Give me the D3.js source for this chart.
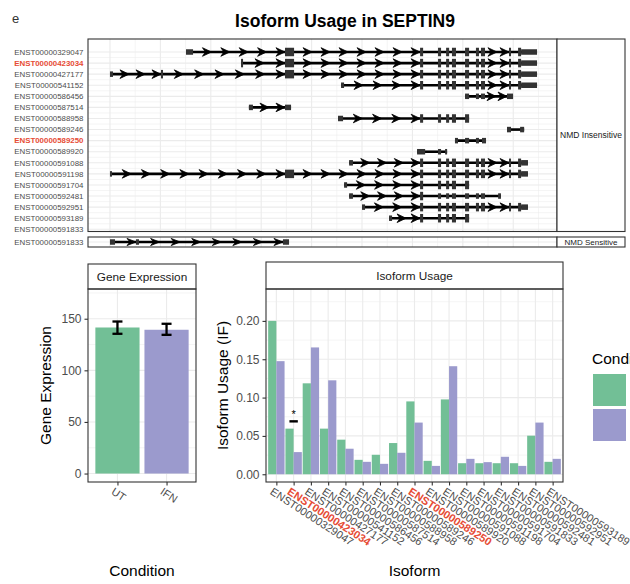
<!DOCTYPE html>
<html>
<head>
<meta charset="utf-8">
<script src="https://cdn.jsdelivr.net/npm/d3@7"></script>
<style>
  body { margin: 0; background: #fff; }
  svg text { font-family: "Liberation Sans", Arial, sans-serif; }
</style>
</head>
<body>
<svg id="chart" width="630" height="584"></svg>
<script>
// ---- transcript structures (positions in kb from the first TSS) ----
const insensitiveIds = ['ENST00000329047', 'ENST00000423034', 'ENST00000427177', 'ENST00000541152',
    'ENST00000586456', 'ENST00000587514', 'ENST00000588958', 'ENST00000589246', 'ENST00000589250',
    'ENST00000589920', 'ENST00000591088', 'ENST00000591198', 'ENST00000591704', 'ENST00000592481',
    'ENST00000592951', 'ENST00000593189', 'ENST00000591833'];
const sensitiveIds = ['ENST00000591833'];
const highlightIds = ['ENST00000423034', 'ENST00000589250'];

// shared exons: [start, end, 'C' = coding / 'U' = untranslated]
const bigExon = [86.8, 91.3, 'C'];
const core5 = [[153.8, 155.3, 'C'], [162.7, 164.2, 'C'], [166.7, 168.2, 'C'], [169.6, 171.6, 'C'], [176.1, 178.1, 'C']];
const core3 = [[181.5, 183.0, 'C'], [184.0, 186.0, 'C'], [197.9, 198.9, 'C'], [202.4, 203.9, 'C']];
const utrLong = [203.9, 211.8, 'U'];
const utrShort = [203.9, 207.3, 'U'];

const ex329047 = [[37.7, 41.2, 'U'], bigExon, ...core5, ...core3, utrLong];
const ex423034 = [[65.0, 66.0, 'C'], bigExon, ...core5, ...core3, utrLong];
const ex427177 = [[0, 1.5, 'U'], [25.3, 26.3, 'C'], bigExon, ...core5, ...core3, utrLong];
const ex541152 = [[114.6, 116.1, 'U'], ...core5, ...core3, utrLong];
const ex586456 = [[176.1, 178.1, 'U'], [181.5, 183.0, 'U'], [184.0, 186.0, 'U'], [196.9, 199.9, 'U']];
const ex587514 = [[68.9, 70.9, 'U'], [86.8, 89.8, 'U']];
const ex588958 = [[113.1, 115.6, 'U'], ...core5];
const ex589246 = [[196.9, 198.9, 'U'], [203.4, 205.4, 'U']];
const ex589250 = [[171.1, 172.6, 'U'], [176.1, 178.1, 'U'], [181.5, 183.0, 'U'], [184.5, 186.5, 'U']];
const ex589920 = [[152.3, 156.3, 'U'], [162.7, 164.2, 'U'], [166.2, 167.2, 'U']];
const ex591088 = [[118.6, 120.5, 'U'], ...core5, ...core3, utrShort];
const ex591198 = [[0, 1.0, 'U'], bigExon, ...core5, ...core3, utrShort];
const ex591704 = [[116.1, 117.6, 'U'], ...core5];
const ex592481 = [[118.6, 120.5, 'U'], [153.8, 155.3, 'C'], [162.7, 164.2, 'U'], [166.7, 168.2, 'U'],
    [169.6, 171.6, 'U'], [176.1, 178.1, 'U'], [181.5, 183.0, 'U'], [184.0, 186.0, 'U'], [192.5, 193.9, 'U']];
const ex592951 = [[125.0, 126.5, 'U'], ...core5, ...core3, utrShort];
const ex593189 = [[138.4, 139.9, 'U'], ...core5];
const ex591833 = [[0, 2.5, 'U'], [12.9, 14.4, 'U'], [85.8, 88.8, 'U']];

// ---- bar data ----
const conditions = ['UT', 'IFN'];
const conditionColors = ['#72bf96', '#9b9acd'];
const geneExpr = [141.5, 139.3];
const geneLow = [135.4, 134.4];
const geneHigh = [147.3, 145.1];
const geneTicks = [0, 50, 100, 150];

const isoformIds = ['ENST00000329047', 'ENST00000423034', 'ENST00000427177', 'ENST00000541152',
    'ENST00000586456', 'ENST00000587514', 'ENST00000588958', 'ENST00000589246', 'ENST00000589250',
    'ENST00000589920', 'ENST00000591088', 'ENST00000591198', 'ENST00000591704', 'ENST00000591833',
    'ENST00000592481', 'ENST00000592951', 'ENST00000593189'];
const ifUT  = [0.200, 0.0595, 0.1186, 0.0595, 0.0451, 0.0188, 0.0254, 0.0407, 0.0950, 0.0175, 0.0976, 0.0144, 0.0144, 0.0144, 0.0144, 0.0503, 0.0162];
const ifIFN = [0.1475, 0.0289, 0.1654, 0.1225, 0.0333, 0.0162, 0.0136, 0.0280, 0.0674, 0.0109, 0.1409, 0.0201, 0.0158, 0.0228, 0.0109, 0.0674, 0.0201];
const ifTicks = [0, 0.05, 0.10, 0.15, 0.20];
const sigIsoforms = ['ENST00000423034'];
const sigLevel = [0.069];

const exonMap = new Map([
    ['ENST00000329047', ex329047], ['ENST00000423034', ex423034], ['ENST00000427177', ex427177],
    ['ENST00000541152', ex541152], ['ENST00000586456', ex586456], ['ENST00000587514', ex587514],
    ['ENST00000588958', ex588958], ['ENST00000589246', ex589246], ['ENST00000589250', ex589250],
    ['ENST00000589920', ex589920], ['ENST00000591088', ex591088], ['ENST00000591198', ex591198],
    ['ENST00000591704', ex591704], ['ENST00000592481', ex592481], ['ENST00000592951', ex592951],
    ['ENST00000593189', ex593189]
]);

const grid = '#ebebeb';
const border = '#333333';
const tickText = '#4d4d4d';
const red = '#E64B35';

let svg = d3.select('#chart');

// header
svg.append('text').attr('x', 12).attr('y', 23).attr('font-size', 13).attr('fill', '#333').text('e');
svg.append('text').attr('x', 345).attr('y', 27).attr('text-anchor', 'middle')
    .attr('font-size', 17.5).attr('font-weight', 'bold').attr('fill', '#000')
    .text('Isoform Usage in SEPTIN9');

// ================= transcript panel =================
const txLeft = 88, txRight = 557, stripRight = 625;
let x = d3.scaleLinear().domain([-10.9, 221.7]).range([txLeft, txRight]);
let y1 = d3.scalePoint().domain(insensitiveIds).range([52, 229.3]);
let y2 = d3.scalePoint().domain(sensitiveIds).range([237, 247]).padding(0.5);

const xMajor = d3.range(0, 201, 25);
const xMinor = d3.range(12.5, 221, 25);

function panelGrid(g, top, bottom, rowYs) {
    xMinor.forEach(v => g.append('line').attr('x1', x(v)).attr('x2', x(v)).attr('y1', top).attr('y2', bottom)
        .attr('stroke', grid).attr('stroke-width', 0.55));
    for (let i = 0; i < rowYs.length - 1; i++) {
        let m = (rowYs[i] + rowYs[i + 1]) / 2;
        g.append('line').attr('x1', txLeft).attr('x2', txRight).attr('y1', m).attr('y2', m)
            .attr('stroke', grid).attr('stroke-width', 0.55);
    }
    xMajor.forEach(v => g.append('line').attr('x1', x(v)).attr('x2', x(v)).attr('y1', top).attr('y2', bottom)
        .attr('stroke', grid).attr('stroke-width', 1.1));
    rowYs.forEach(yy => g.append('line').attr('x1', txLeft).attr('x2', txRight).attr('y1', yy).attr('y2', yy)
        .attr('stroke', grid).attr('stroke-width', 1.1));
}

function drawTrack(g, exons, yc, arrowH) {
    if (!exons || !exons.length) return;
    let ex = exons.slice().sort((a, b) => a[0] - b[0]);
    g.append('line').attr('x1', x(ex[0][0])).attr('x2', x(ex[ex.length - 1][1]))
        .attr('y1', yc).attr('y2', yc).attr('stroke', '#000').attr('stroke-width', 2.6);
    // intron direction arrows
    for (let i = 0; i < ex.length - 1; i++) {
        let a = x(ex[i][1]), b = x(ex[i + 1][0]), len = b - a;
        if (len < 18) continue;
        let n = Math.ceil(len / 21), step = len / n;
        for (let k = 1; k <= n; k++) {
            let t = a + step * k;
            g.append('path')
                .attr('d', `M${t},${yc} L${t - 9},${yc - arrowH} L${t - 6},${yc} L${t - 9},${yc + arrowH} Z`)
                .attr('fill', '#000').attr('stroke', '#000').attr('stroke-width', 0.8).attr('stroke-linejoin', 'round');
        }
    }
    ex.forEach(e => {
        let h = e[2] === 'C' ? 8.5 : 5.5;
        g.append('rect').attr('x', x(e[0])).attr('width', Math.max(1.4, x(e[1]) - x(e[0])))
            .attr('y', yc - h / 2).attr('height', h).attr('fill', '#333');
    });
}

function rowLabels(ids, yScale) {
    svg.append('g').selectAll('text').data(ids).enter().append('text')
        .attr('x', 83.5).attr('y', d => yScale(d)).attr('dy', '0.35em')
        .attr('text-anchor', 'end').attr('font-size', 7.9)
        .attr('font-weight', d => highlightIds.includes(d) ? 'bold' : 'normal')
        .attr('fill', d => highlightIds.includes(d) ? red : tickText)
        .text(d => d);
}

// panel 1 (NMD insensitive)
const p1Top = 39, p1Bottom = 231.5;
let g1 = svg.append('g');
g1.append('rect').attr('x', txLeft).attr('y', p1Top).attr('width', txRight - txLeft).attr('height', p1Bottom - p1Top).attr('fill', '#fff');
panelGrid(g1, p1Top, p1Bottom, insensitiveIds.map(d => y1(d)));
insensitiveIds.forEach(id => drawTrack(g1, exonMap.get(id), y1(id), 4.3));
g1.append('rect').attr('x', txLeft).attr('y', p1Top).attr('width', txRight - txLeft).attr('height', p1Bottom - p1Top)
    .attr('fill', 'none').attr('stroke', border).attr('stroke-width', 1.1);
g1.append('rect').attr('x', txRight).attr('y', p1Top).attr('width', stripRight - txRight).attr('height', p1Bottom - p1Top)
    .attr('fill', '#fff').attr('stroke', border).attr('stroke-width', 1.1);
g1.append('text').attr('x', (txRight + stripRight) / 2).attr('y', (p1Top + p1Bottom) / 2).attr('dy', '0.35em')
    .attr('text-anchor', 'middle').attr('font-size', 8.5).attr('fill', '#1a1a1a').text('NMD Insensitive');
rowLabels(insensitiveIds, y1);

// panel 2 (NMD sensitive)
const p2Top = 237, p2Bottom = 247;
let g2 = svg.append('g');
g2.append('rect').attr('x', txLeft).attr('y', p2Top).attr('width', txRight - txLeft).attr('height', p2Bottom - p2Top).attr('fill', '#fff');
panelGrid(g2, p2Top, p2Bottom, sensitiveIds.map(d => y2(d)));
drawTrack(g2, ex591833, y2('ENST00000591833'), 3.6);
g2.append('rect').attr('x', txLeft).attr('y', p2Top).attr('width', txRight - txLeft).attr('height', p2Bottom - p2Top)
    .attr('fill', 'none').attr('stroke', border).attr('stroke-width', 1.1);
g2.append('rect').attr('x', txRight).attr('y', p2Top).attr('width', stripRight - txRight).attr('height', p2Bottom - p2Top)
    .attr('fill', '#fff').attr('stroke', border).attr('stroke-width', 1.1);
g2.append('text').attr('x', (txRight + stripRight) / 2).attr('y', (p2Top + p2Bottom) / 2).attr('dy', '0.35em')
    .attr('text-anchor', 'middle').attr('font-size', 8).attr('fill', '#1a1a1a').text('NMD Sensitive');
rowLabels(sensitiveIds, y2);

// ================= bar panels =================
const panelTop = 289, panelBottom = 482;

function barPanel(left, right, stripTop, title, xs, ys, yTicks, yMinor, tickFmt) {
    let g = svg.append('g');
    g.append('rect').attr('x', left).attr('y', panelTop).attr('width', right - left).attr('height', panelBottom - panelTop).attr('fill', '#fff');
    yMinor.forEach(v => g.append('line').attr('x1', left).attr('x2', right).attr('y1', ys(v)).attr('y2', ys(v))
        .attr('stroke', grid).attr('stroke-width', 0.55));
    yTicks.forEach(v => g.append('line').attr('x1', left).attr('x2', right).attr('y1', ys(v)).attr('y2', ys(v))
        .attr('stroke', grid).attr('stroke-width', 1.1));
    xs.domain().forEach(d => g.append('line').attr('x1', xs(d)).attr('x2', xs(d)).attr('y1', panelTop).attr('y2', panelBottom)
        .attr('stroke', grid).attr('stroke-width', 1.1));

    // strip
    g.append('rect').attr('x', left).attr('y', stripTop).attr('width', right - left).attr('height', panelTop - stripTop)
        .attr('fill', '#fff').attr('stroke', border).attr('stroke-width', 1.1);
    g.append('text').attr('x', (left + right) / 2).attr('y', (stripTop + panelTop) / 2).attr('dy', '0.35em')
        .attr('text-anchor', 'middle').attr('font-size', 11.8).attr('fill', '#1a1a1a').text(title);

    // axes
    let ay = g.append('g').attr('transform', `translate(${left},0)`)
        .call(d3.axisLeft(ys).tickValues(yTicks).tickSize(3.5).tickPadding(3).tickFormat(tickFmt));
    let ax = g.append('g').attr('transform', `translate(0,${panelBottom})`)
        .call(d3.axisBottom(xs).tickSize(3.5).tickPadding(3));
    [ay, ax].forEach(a => {
        a.select('.domain').remove();
        a.selectAll('line').attr('stroke', border).attr('stroke-width', 1.1);
        a.selectAll('text').attr('fill', tickText).attr('font-family', '"Liberation Sans", Arial, sans-serif');
    });
    ay.selectAll('text').attr('font-size', 12);
    ax.selectAll('text')
        .attr('x', 0).attr('y', 6).attr('dy', '0.71em')
        .attr('text-anchor', 'start').attr('transform', 'rotate(33)')
        .attr('font-size', 11)
        .attr('font-weight', d => highlightIds.includes(d) ? 'bold' : 'normal')
        .attr('fill', d => highlightIds.includes(d) ? red : tickText);
    return g;
}

// gene expression
const geLeft = 88, geRight = 196;
let gx = d3.scalePoint().domain(conditions).range([geLeft, geRight]).padding(0.6);
let gy = d3.scaleLinear().domain([-8.2, 178.8]).range([panelBottom, panelTop]);
let ge = barPanel(geLeft, geRight, 264, 'Gene Expression', gx, gy, geneTicks, [25, 75, 125, 175], d3.format('d'));
let gbw = gx.step() * 0.9;
ge.append('g').selectAll('rect').data(conditions).enter().append('rect')
    .attr('x', d => gx(d) - gbw / 2).attr('width', gbw)
    .attr('y', (d, i) => gy(geneExpr[i])).attr('height', (d, i) => gy(0) - gy(geneExpr[i]))
    .attr('fill', (d, i) => conditionColors[i]);
let eb = ge.append('g').attr('stroke', '#000').attr('stroke-width', 2.3);
conditions.forEach((c, i) => {
    eb.append('line').attr('x1', gx(c)).attr('x2', gx(c)).attr('y1', gy(geneLow[i])).attr('y2', gy(geneHigh[i]));
    [geneLow[i], geneHigh[i]].forEach(v => eb.append('line')
        .attr('x1', gx(c) - 5).attr('x2', gx(c) + 5).attr('y1', gy(v)).attr('y2', gy(v)));
});
ge.append('rect').attr('x', geLeft).attr('y', panelTop).attr('width', geRight - geLeft).attr('height', panelBottom - panelTop)
    .attr('fill', 'none').attr('stroke', border).attr('stroke-width', 1.1);

// isoform usage
const iuLeft = 266, iuRight = 563;
let ix = d3.scalePoint().domain(isoformIds).range([iuLeft, iuRight]).padding(0.6);
let iy = d3.scaleLinear().domain([-0.0101, 0.2416]).range([panelBottom, panelTop]);
let iu = barPanel(iuLeft, iuRight, 262, 'Isoform Usage', ix, iy, ifTicks,
    [0.025, 0.075, 0.125, 0.175, 0.225], d3.format('.2f'));
let ibw = ix.step() * 0.475;
[ifUT, ifIFN].forEach((vals, s) => {
    iu.append('g').selectAll('rect').data(isoformIds).enter().append('rect')
        .attr('x', d => ix(d) - ibw + s * ibw).attr('width', ibw)
        .attr('y', (d, i) => iy(vals[i])).attr('height', (d, i) => iy(0) - iy(vals[i]))
        .attr('fill', conditionColors[s]);
});
sigIsoforms.forEach((id, i) => {
    iu.append('line').attr('x1', ix(id) - 4.2).attr('x2', ix(id) + 4.2)
        .attr('y1', iy(sigLevel[i])).attr('y2', iy(sigLevel[i]))
        .attr('stroke', '#000').attr('stroke-width', 2.4);
    iu.append('text').attr('x', ix(id)).attr('y', iy(sigLevel[i]) - 3.5).attr('text-anchor', 'middle')
        .attr('font-size', 11).attr('fill', '#000').text('*');
});
iu.append('rect').attr('x', iuLeft).attr('y', panelTop).attr('width', iuRight - iuLeft).attr('height', panelBottom - panelTop)
    .attr('fill', 'none').attr('stroke', border).attr('stroke-width', 1.1);

// axis titles
const midY = (panelTop + panelBottom) / 2;
svg.append('text').attr('transform', `translate(51,${midY}) rotate(-90)`).attr('text-anchor', 'middle')
    .attr('font-size', 15.5).attr('fill', '#000').text('Gene Expression');
svg.append('text').attr('transform', `translate(228,${midY}) rotate(-90)`).attr('text-anchor', 'middle')
    .attr('font-size', 15.5).attr('fill', '#000').text('Isoform Usage (IF)');
svg.append('text').attr('x', (geLeft + geRight) / 2).attr('y', 576).attr('text-anchor', 'middle')
    .attr('font-size', 15.5).attr('fill', '#000').text('Condition');
svg.append('text').attr('x', (iuLeft + iuRight) / 2).attr('y', 576).attr('text-anchor', 'middle')
    .attr('font-size', 15.5).attr('fill', '#000').text('Isoform');

// legend (the reference is cropped at the right edge, title shows as "Cond")
svg.append('text').attr('x', 592).attr('y', 364).attr('font-size', 15.5).attr('fill', '#000').text('Condition');
svg.append('g').selectAll('rect').data(conditions).enter().append('rect')
    .attr('x', 593).attr('y', (d, i) => 374 + i * 35).attr('width', 33).attr('height', 32)
    .attr('fill', (d, i) => conditionColors[i]);
</script>
</body>
</html>
